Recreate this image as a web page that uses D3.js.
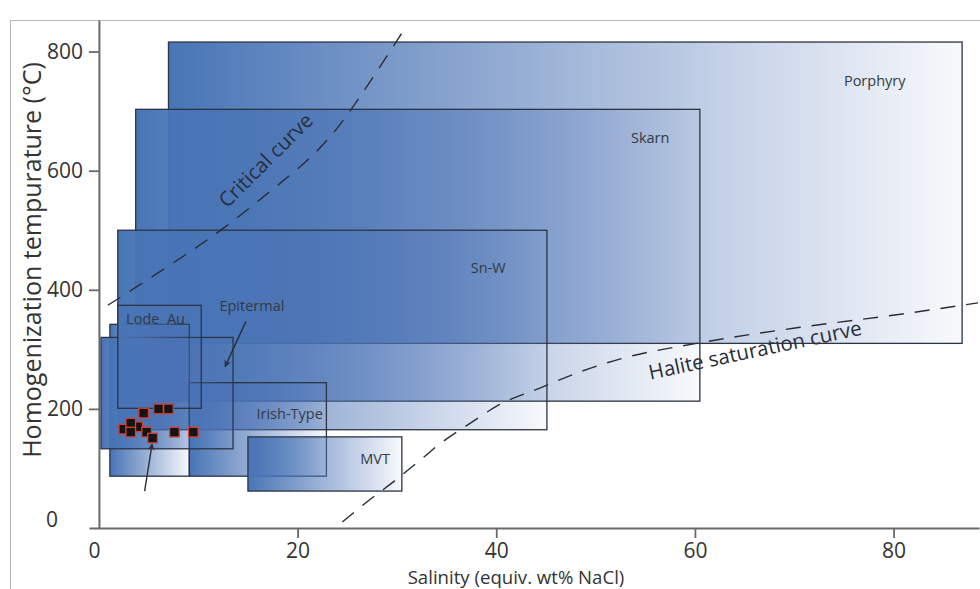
<!DOCTYPE html>
<html><head><meta charset="utf-8">
<script src="https://cdn.jsdelivr.net/npm/d3@7"></script>
<style>
body{margin:0;background:#fff}
svg{display:block}
text{font-family:"Open Sans","Noto Sans",sans-serif}
</style>
</head><body>
<svg id="chart" width="980" height="589"></svg>
<script>
// ---- data ----
const boxNames  = ["Porphyry", "Skarn", "Sn-W", "Irish-Type", "MVT", "", "Epitermal", "Lode  Au"];
const boxSalMin = [7.0, 3.7, 1.9, 9.1, 15.0, 1.1, 0.2, 1.9];
const boxSalMax = [86.9, 60.5, 45.1, 22.9, 30.5, 9.1, 13.5, 10.3];
const boxThMin  = [310, 213, 165, 87, 62, 87, 133, 201];
const boxThMax  = [816, 703, 500, 244, 153, 342, 320, 374];
const labelSal  = [78.1, 55.5, 39.2, 19.2, 27.8, null, 15.4, 5.7];
const labelTh   = [742, 646, 428, 183, 107, null, 364, 343];

const criticalSal = [0.9, 7.05, 12.6, 17.4, 21.2, 24.3, 27.3, 30.5];
const criticalTh  = [374, 440, 502, 568, 618, 675, 749, 831];
const haliteSal = [24.5, 27.0, 29.6, 32.2, 34.3, 37.4, 40.3, 44.4, 48.4, 52.5, 60.5, 70.6, 80.7, 88.5];
const haliteTh  = [10, 44, 77, 112, 141, 176, 207, 235, 262, 284, 311, 337, 359, 378];

const sampleSal = [2.5, 3.9, 3.2, 3.2, 4.5, 6.0, 7.0, 4.8, 5.4, 7.6, 9.5];
const sampleTh  = [166, 170, 176, 161, 193, 200, 200, 161, 151, 161, 161];

const arrowFromSal = [4.6, 14.8];
const arrowFromTh  = [62, 347];
const arrowToSal   = [5.35, 12.7];
const arrowToTh    = [141, 271];

const xTicks = [0, 20, 40, 60, 80];
const yTicks = [0, 200, 400, 600, 800];

// ---- scales ----
const svg = d3.select("#chart");
const x = d3.scaleLinear().domain([-1, 88.6]).range([89, 979]);
const y = d3.scaleLinear().domain([0, 853]).range([528, 20]);

// frame
svg.append("rect").attr("x", 10.5).attr("y", 20.5).attr("width", 980).attr("height", 600)
  .attr("fill", "none").attr("stroke", "#b5b5b5").attr("stroke-width", 1);

const defs = svg.append("defs");
const grad = defs.append("linearGradient").attr("id", "fade").attr("x1", 0).attr("x2", 1).attr("y1", 0).attr("y2", 0);
grad.append("stop").attr("offset", "0%").attr("stop-color", "#4875b6").attr("stop-opacity", 1);
grad.append("stop").attr("offset", "100%").attr("stop-color", "#4c70b4").attr("stop-opacity", 0.04);

defs.append("marker").attr("id", "arrow").attr("viewBox", "0 0 10 10")
  .attr("refX", 9).attr("refY", 5).attr("markerWidth", 7).attr("markerHeight", 7)
  .attr("orient", "auto").attr("markerUnits", "userSpaceOnUse")
  .append("path").attr("d", "M0,0 L10,5 L0,10 L3,5 Z").attr("fill", "#2b2f3a");

// boxes
const boxes = boxNames.map((n, i) => ({n, i}));
svg.append("g").selectAll("rect").data(boxes).join("rect")
  .attr("x", d => x(boxSalMin[d.i]))
  .attr("y", d => y(boxThMax[d.i]))
  .attr("width", d => x(boxSalMax[d.i]) - x(boxSalMin[d.i]))
  .attr("height", d => y(boxThMin[d.i]) - y(boxThMax[d.i]))
  .attr("fill", "url(#fade)")
  .attr("stroke", "#2c3444").attr("stroke-width", 1.3);

// box labels
svg.append("g").selectAll("text").data(boxes.filter(d => d.n)).join("text")
  .attr("x", d => x(labelSal[d.i])).attr("y", d => y(labelTh[d.i]))
  .attr("text-anchor", "middle").attr("font-size", 14.5).attr("fill", "#333a45")
  .style("white-space", "pre")
  .text(d => d.n);

// curves
const line = d3.line().x(d => x(d[0])).y(d => y(d[1]));
svg.append("path").datum(criticalSal.map((s, i) => [s, criticalTh[i]]))
  .attr("d", line.curve(d3.curveBasis)).attr("fill", "none").attr("stroke", "#2a2d35").attr("stroke-width", 1.4)
  .attr("stroke-dasharray", "15,11");
svg.append("path").datum(haliteSal.map((s, i) => [s, haliteTh[i]]))
  .attr("d", line.curve(d3.curveMonotoneX)).attr("fill", "none").attr("stroke", "#2a2d35").attr("stroke-width", 1.4)
  .attr("stroke-dasharray", "15,11");

svg.append("text").attr("transform", `translate(${x(17.3)},${y(609)}) rotate(-45)`)
  .attr("text-anchor", "middle").attr("font-size", 20.5).attr("fill", "#2a2f3c").text("Critical curve");
svg.append("text").attr("transform", `translate(${x(66.2)},${y(287)}) rotate(-12)`)
  .attr("text-anchor", "middle").attr("font-size", 20.5).attr("fill", "#2a2f3c").text("Halite saturation curve");

// arrows
svg.append("g").selectAll("line").data(arrowFromSal).join("line")
  .attr("x1", (d, i) => x(d)).attr("y1", (d, i) => y(arrowFromTh[i]))
  .attr("x2", (d, i) => x(arrowToSal[i])).attr("y2", (d, i) => y(arrowToTh[i]))
  .attr("stroke", "#2b2f3a").attr("stroke-width", 1.4).attr("marker-end", "url(#arrow)");

// samples
svg.append("g").selectAll("rect").data(sampleSal).join("rect")
  .attr("x", (d) => x(d) - 4.8).attr("y", (d, i) => y(sampleTh[i]) - 4.8)
  .attr("width", 9.6).attr("height", 9.6)
  .attr("fill", "#141414").attr("stroke", "#d8402c").attr("stroke-width", 1.3);

// axes
const xAxis = svg.append("g").attr("transform", `translate(0,${y(0)})`)
  .call(d3.axisBottom(x).tickValues(xTicks).tickSize(10).tickSizeOuter(0).tickPadding(5));
const yAxis = svg.append("g").attr("transform", `translate(${x(0)},0)`)
  .call(d3.axisLeft(y).tickValues(yTicks).tickSize(10).tickSizeOuter(0).tickPadding(6));
[xAxis, yAxis].forEach(a => {
  a.select(".domain").attr("stroke", "#6a6a6a").attr("stroke-width", 2);
  a.selectAll(".tick line").attr("stroke", "#6a6a6a").attr("stroke-width", 1.8);
  a.selectAll(".tick text").attr("font-size", 21).attr("fill", "#333").attr("font-family", "Open Sans");
});
xAxis.selectAll(".tick").filter(d => d === 0).select("line").remove();
xAxis.selectAll(".tick").filter(d => d === 0).select("text").attr("x", -5);
yAxis.selectAll(".tick").filter(d => d === 0).select("line").remove();
yAxis.selectAll(".tick").filter(d => d === 0).select("text").attr("x", -41).attr("dy", "-0.05em");

svg.append("text").attr("x", 516).attr("y", 584)
  .attr("text-anchor", "middle").attr("font-size", 18.6).attr("fill", "#333").text("Salinity (equiv. wt% NaCl)");
svg.append("text").attr("transform", `translate(41,260) rotate(-90)`)
  .attr("text-anchor", "middle").attr("font-size", 25).attr("fill", "#333").text("Homogenization tempurature (°C)");
</script>
</body></html>
